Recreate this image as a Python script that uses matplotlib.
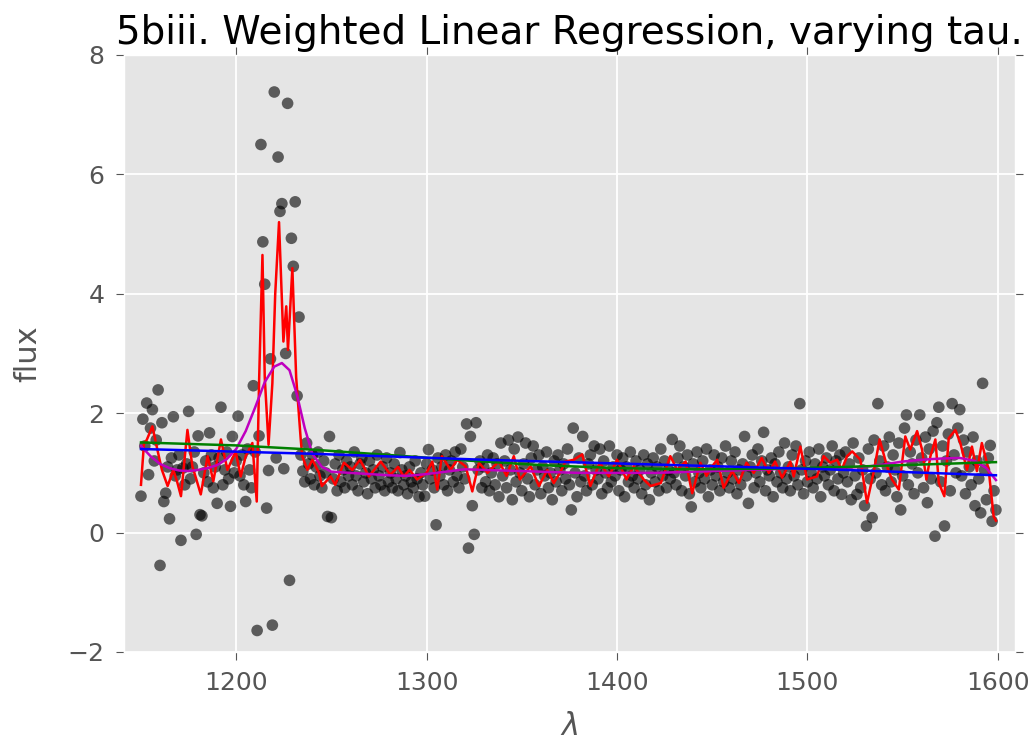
import matplotlib
matplotlib.use('Agg')
import matplotlib.pyplot as plt

# wavelength grid of the spectrum
lam = list(range(1150, 1600))

flux = [
    0.61, 1.90, 1.45, 2.17, 0.97, 1.75, 2.06, 1.20, 1.55, 2.39,   # 1150
    -0.55, 1.84, 0.52, 0.66, 1.10, 0.23, 1.25, 1.94, 0.95, 1.05,  # 1160
    1.30, -0.13, 1.08, 0.80, 1.15, 2.03, 0.90, 1.10, 1.35, -0.03, # 1170
    1.62, 0.30, 0.28, 1.00, 1.20, 0.85, 1.67, 1.30, 0.75, 1.10,   # 1180
    0.49, 1.25, 2.10, 0.80, 1.05, 1.35, 0.90, 0.44, 1.61, 1.00,   # 1190
    1.20, 1.95, 0.95, 1.30, 0.80, 0.52, 1.40, 1.05, 0.75, 2.46,   # 1200
    1.35, -1.64, 1.62, 6.50, 4.87, 4.16, 0.41, 1.04, 2.91, -1.55, # 1210
    7.38, 1.25, 6.29, 5.38, 5.51, 1.07, 3.00, 7.19, -0.80, 4.93,  # 1220
    4.46, 5.54, 2.29, 3.61, 1.30, 1.03, 0.85, 1.50, 1.15, 0.90,   # 1230
    1.30, 0.80, 1.10, 1.35, 0.95, 0.75, 1.20, 1.00, 0.27, 1.61,   # 1240
    0.25, 0.90, 1.15, 0.70, 1.30, 0.85, 1.05, 0.75, 1.20, 0.95,   # 1250
    1.10, 0.80, 1.35, 0.95, 0.70, 1.15, 1.25, 0.85, 1.00, 0.65,   # 1260
    1.20, 0.90, 1.05, 0.75, 1.30, 0.95, 0.80, 1.10, 0.70, 1.25,   # 1270
    0.85, 1.00, 0.75, 1.15, 0.90, 0.70, 1.34, 1.05, 0.80, 0.95,   # 1280
    0.65, 1.10, 0.85, 0.75, 1.20, 0.90, 0.60, 1.00, 0.80, 0.61,   # 1290
    1.15, 1.39, 0.90, 1.05, 0.75, 0.13, 1.25, 0.95, 1.10, 0.80,   # 1300
    1.30, 0.70, 1.05, 1.20, 0.85, 1.35, 0.95, 0.75, 1.40, 1.10,   # 1310
    0.90, 1.82, -0.26, 1.61, 0.45, -0.03, 1.84, 1.05, 1.20, 0.75, # 1320
    1.10, 0.85, 1.30, 0.70, 1.00, 1.25, 0.80, 1.15, 0.60, 1.50,   # 1330
    0.95, 1.20, 0.75, 1.55, 1.05, 0.55, 1.40, 0.85, 1.60, 1.00,   # 1340
    0.70, 1.15, 1.50, 0.90, 0.60, 1.25, 1.45, 0.80, 1.05, 1.30,   # 1350
    0.65, 1.10, 0.95, 1.35, 0.75, 1.00, 0.55, 1.20, 0.85, 1.30,   # 1360
    1.05, 0.70, 1.15, 0.90, 1.40, 0.80, 0.38, 1.75, 1.00, 0.60,   # 1370
    1.25, 0.85, 1.61, 0.95, 0.70, 1.15, 1.30, 0.80, 1.45, 1.05,   # 1380
    0.90, 1.40, 0.65, 1.20, 1.00, 0.75, 1.45, 0.85, 1.10, 0.95,   # 1390
    1.30, 0.70, 1.05, 1.25, 0.60, 1.10, 0.85, 1.35, 0.95, 0.75,   # 1400
    1.20, 0.90, 1.05, 0.65, 1.30, 0.80, 1.15, 0.55, 1.00, 1.25,   # 1410
    0.85, 1.10, 0.70, 1.40, 0.95, 1.20, 0.75, 1.05, 0.90, 1.56,   # 1420
    1.00, 0.80, 1.25, 1.45, 0.70, 1.10, 0.95, 1.30, 0.65, 0.43,   # 1430
    1.15, 0.85, 1.35, 1.00, 0.75, 1.20, 0.90, 1.40, 0.60, 1.05,   # 1440
    0.80, 1.30, 0.95, 1.10, 0.70, 1.25, 0.85, 1.45, 1.00, 0.75,   # 1450
    1.20, 0.90, 1.35, 0.65, 1.05, 0.80, 1.15, 1.61, 0.95, 0.49,   # 1460
    1.10, 1.30, 0.75, 1.00, 1.40, 0.85, 1.20, 1.68, 0.70, 1.05,   # 1470
    0.95, 1.25, 0.60, 1.15, 0.85, 1.35, 1.00, 0.75, 1.50, 0.90,   # 1480
    1.10, 0.70, 1.30, 0.95, 1.45, 0.80, 2.16, 1.05, 0.65, 1.20,   # 1490
    0.85, 1.35, 1.00, 0.75, 1.15, 0.90, 1.40, 0.60, 1.10, 0.95,   # 1500
    1.25, 0.80, 1.05, 1.45, 0.70, 1.20, 0.90, 1.30, 0.64, 1.00,   # 1510
    1.35, 0.85, 1.15, 0.55, 1.50, 0.95, 0.64, 1.25, 0.75, 1.05,   # 1520
    0.45, 0.11, 1.40, 0.90, 0.25, 1.55, 1.00, 2.16, 1.20, 0.80,   # 1530
    1.45, 0.70, 1.10, 1.60, 0.85, 1.30, 1.05, 0.60, 1.50, 0.38,   # 1540
    0.95, 1.75, 1.97, 0.80, 1.35, 1.15, 0.65, 1.55, 1.00, 1.97,   # 1550
    1.25, 0.75, 1.60, 0.50, 1.40, 0.90, 1.70, -0.06, 1.84, 2.10,  # 1560
    0.85, 1.45, 0.11, 1.20, 1.65, 0.70, 2.16, 1.30, 1.00, 1.75,   # 1570
    2.06, 0.95, 1.55, 0.65, 1.35, 1.10, 0.80, 1.60, 0.45, 1.20,   # 1580
    0.90, 0.33, 2.50, 1.05, 0.55, 1.25, 1.46, 0.19, 0.70, 0.38,   # 1590
]

# tau = 1 fit (red)
red_lam = [1150, 1151.6, 1153, 1156, 1158.6, 1161, 1164, 1167, 1169, 1171,
           1174.4, 1177, 1179, 1181.4, 1185, 1188, 1192, 1195.4, 1199.7, 1202.4,
           1205, 1208.5, 1210.8, 1212, 1213.8, 1215, 1217, 1219, 1220.5, 1222.5,
           1224.8, 1226.3, 1227.2, 1229.5, 1231.5, 1233.9, 1234.7, 1237.4, 1240, 1243.5,
           1245, 1249.6, 1252, 1256.6, 1261, 1265, 1269.7, 1275.9, 1281, 1285,
           1288, 1291, 1295, 1300, 1303, 1305.6, 1308, 1312.6, 1316, 1320.5,
           1324, 1327.5, 1332, 1335, 1338, 1342, 1345.8, 1349, 1354.6, 1359,
           1363.4, 1366.8, 1370, 1373, 1377.3, 1381.7, 1386, 1391, 1395.7, 1400,
           1405, 1408.8, 1414, 1417.6, 1423, 1428, 1431.6, 1436, 1439.5, 1443.8,
           1447, 1450, 1452.6, 1456, 1460.5, 1464, 1468, 1471.8, 1476, 1479.7,
           1483, 1486.7, 1491, 1492.8, 1496.3, 1499.8, 1505, 1508.5, 1512, 1515.6,
           1518, 1520.8, 1523.5, 1527.8, 1531.3, 1534.7, 1537.9, 1541.8, 1544.4, 1548,
           1551.4, 1554, 1557.6, 1560.2, 1562.5, 1564.6, 1567.2, 1569, 1571.9, 1574.2,
           1577.7, 1580.3, 1583.8, 1586.4, 1589, 1591.6, 1595.2, 1597.8, 1599]
red_flux = [0.80, 1.50, 1.55, 1.78, 1.39, 1.05, 0.78, 1.05, 0.85, 0.61,
            1.72, 1.11, 0.90, 0.64, 1.28, 0.86, 1.56, 1.05, 1.36, 0.94,
            1.28, 1.50, 0.52, 2.50, 4.65, 2.60, 1.47, 2.50, 4.00, 5.20,
            3.20, 3.79, 3.06, 4.43, 2.60, 1.56, 1.28, 1.05, 1.22, 1.00,
            0.78, 0.94, 0.80, 1.17, 1.05, 1.22, 0.94, 1.19, 0.97, 1.10,
            0.94, 1.05, 0.89, 1.00, 1.19, 0.72, 1.28, 1.05, 1.22, 1.11,
            0.69, 1.17, 1.00, 1.10, 1.19, 0.95, 1.28, 0.89, 1.11, 0.78,
            1.05, 0.83, 1.00, 1.19, 1.22, 1.31, 0.78, 1.17, 0.94, 1.22,
            0.89, 1.11, 0.89, 0.78, 0.83, 1.28, 1.05, 1.19, 0.66, 1.17,
            0.95, 1.11, 1.22, 0.75, 1.03, 0.83, 1.17, 1.00, 1.25, 1.00,
            1.19, 0.92, 1.19, 0.94, 1.44, 0.89, 0.94, 1.28, 1.17, 1.22,
            1.05, 1.28, 1.36, 1.22, 0.50, 1.00, 1.56, 1.11, 0.89, 0.72,
            1.61, 1.39, 1.70, 1.39, 0.89, 1.28, 1.56, 0.83, 0.61, 1.58,
            1.72, 1.50, 1.05, 1.44, 1.03, 1.50, 1.05, 0.27, 0.20]

# tau = 5 fit (magenta)
mag_lam = [1150, 1155, 1160, 1165, 1170, 1175, 1180, 1185, 1190, 1195,
           1200, 1205, 1210, 1215, 1220, 1224, 1228, 1232, 1236, 1240,
           1245, 1250, 1260, 1270, 1280, 1290, 1300, 1310, 1320, 1330,
           1340, 1350, 1360, 1370, 1380, 1390, 1400, 1410, 1420, 1430,
           1440, 1450, 1460, 1470, 1480, 1490, 1500, 1510, 1520, 1530,
           1540, 1550, 1560, 1570, 1580, 1588, 1594, 1599]
mag_flux = [1.45, 1.28, 1.15, 1.08, 1.04, 1.03, 1.05, 1.08, 1.13, 1.23,
            1.40, 1.70, 2.10, 2.52, 2.78, 2.84, 2.72, 2.30, 1.75, 1.32,
            1.10, 1.02, 1.00, 0.98, 0.96, 0.95, 0.98, 1.02, 1.06, 1.05,
            1.04, 1.03, 1.02, 1.01, 1.00, 1.00, 1.00, 1.00, 1.00, 1.01,
            1.02, 1.03, 1.04, 1.05, 1.06, 1.07, 1.07, 1.08, 1.09, 1.10,
            1.14, 1.19, 1.22, 1.24, 1.25, 1.20, 1.08, 0.88]

# tau = 100 fit (green)
green_lam = [1150, 1200, 1240, 1280, 1320, 1360, 1400, 1440, 1480, 1520, 1560, 1599]
green_flux = [1.51, 1.46, 1.39, 1.30, 1.21, 1.13, 1.08, 1.06, 1.07, 1.10, 1.14, 1.18]

# tau = 1000 fit (blue)
blue_lam = [1150, 1240, 1330, 1420, 1510, 1599]
blue_flux = [1.40, 1.32, 1.22, 1.14, 1.06, 0.96]

plt.style.use('ggplot')
fig = plt.figure(figsize=(10.32, 7.43), dpi=100)
ax = fig.add_axes([0.120, 0.1225, 0.8635, 0.8035])

ax.scatter(lam, flux, s=70, c='black', alpha=0.6, edgecolors='none', zorder=2)
ax.plot(red_lam, red_flux, color='red', lw=1.8, zorder=3)
ax.plot(mag_lam, mag_flux, color='m', lw=1.8, zorder=3)
ax.plot(green_lam, green_flux, color='green', lw=1.8, zorder=3)
ax.plot(blue_lam, blue_flux, color='blue', lw=1.8, zorder=3)

ax.set_xlim(1141, 1609)
ax.set_ylim(-2, 8)
ax.set_xticks([1200, 1300, 1400, 1500, 1600])
ax.set_yticks([-2, 0, 2, 4, 6, 8])
ax.grid(True, color='white', lw=1.3)
ax.tick_params(direction='out', top=True, right=True, length=6, pad=8,
               color='#555555', labelcolor='#555555', labelsize=18)

ax.set_title('5biii. Weighted Linear Regression, varying tau.', fontsize=28,
             color='black', pad=8)
ax.set_xlabel(r'$\lambda$', fontsize=22, color='#555555', labelpad=12)
ax.set_ylabel('flux', fontsize=22, color='#555555', labelpad=18)

fig.savefig('out.png', dpi=100)
